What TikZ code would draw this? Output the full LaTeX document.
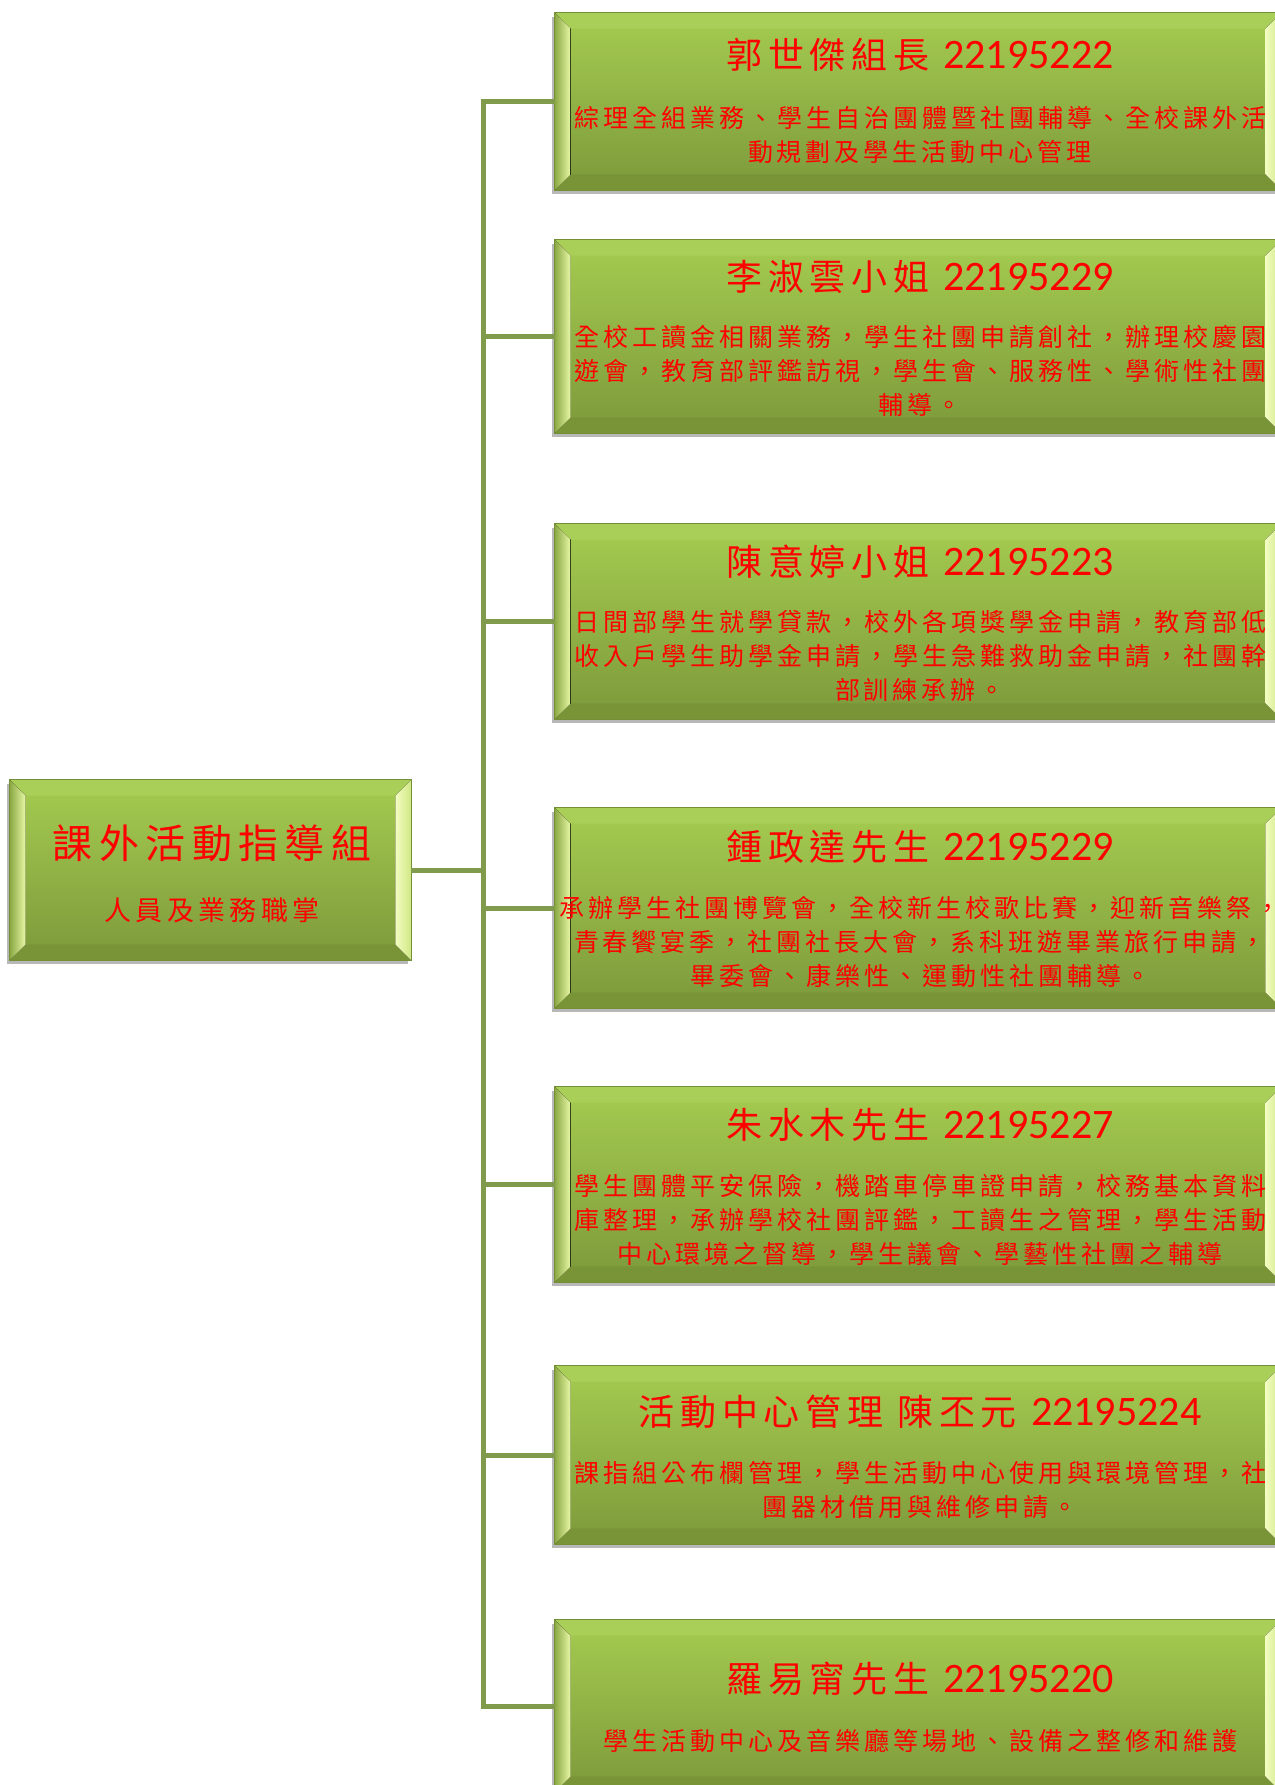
\documentclass[tikz,border=0pt]{standalone}
\usepackage{fontspec}
\usetikzlibrary{calc,backgrounds}
\setmainfont{Noto Sans CJK TC}
\newfontfamily\cjkf[LetterSpace=16]{Noto Sans CJK TC}
\newfontfamily\numf{Carlito}
\definecolor{facetop}{HTML}{A5CC50}
\definecolor{facebot}{HTML}{7D993B}
\definecolor{edgecol}{HTML}{738F38}
\definecolor{conncol}{HTML}{7F9B4B}
\definecolor{txtred}{HTML}{FF0000}
\definecolor{bevtopc}{HTML}{A9CF58}
\definecolor{bevbotc}{HTML}{789437}
\definecolor{bevlo}{HTML}{8BA843}
\definecolor{bevlm}{HTML}{A3C455}
\definecolor{bevli}{HTML}{E8F8A6}
\definecolor{bevri}{HTML}{F2FDC0}
\definecolor{bevro}{HTML}{D0E784}
\tikzset{
  panel/.style={rectangle, inner sep=0pt, top color=facetop, bottom color=facebot, draw=edgecol, line width=0.8pt},
  shadowbox/.style={fill=black!28},
  conn/.style={draw=conncol, line width=5pt, line join=miter},
  ttl/.style={text=txtred, inner sep=0pt},
  dsc/.style={text=txtred, inner sep=0pt, align=center, font=\cjkf\fontsize{25}{34}\selectfont},
}
\newcommand\bevel[1]{%
  \fill[bevtopc] (#1.north west) -- (#1.north east) -- ($(#1.north east)+(-16pt,-16pt)$) -- ($(#1.north west)+(16pt,-16pt)$) -- cycle;
  \fill[bevbotc] (#1.south west) -- (#1.south east) -- ($(#1.south east)+(-16pt,16pt)$) -- ($(#1.south west)+(16pt,16pt)$) -- cycle;
  \fill[left color=bevlo, middle color=bevlm, right color=bevli] (#1.north west) -- ($(#1.north west)+(16pt,-16pt)$) -- ($(#1.south west)+(16pt,16pt)$) -- (#1.south west) -- cycle;
  \fill[left color=bevri, right color=bevro] (#1.north east) -- ($(#1.north east)+(-16pt,-16pt)$) -- ($(#1.south east)+(-16pt,16pt)$) -- (#1.south east) -- cycle;
  \draw[edgecol, line width=0.8pt] (#1.north west) rectangle (#1.south east);
}
\newcommand\ttltext[2]{{\cjkf\fontsize{36}{40}\selectfont #1}\hspace{14pt}{\numf\fontsize{42}{45}\selectfont #2}}
\begin{document}
\begin{tikzpicture}[x=1pt,y=-1pt]
\useasboundingbox (0,0) rectangle (1274,1785);
% panels
\node[panel, minimum width=401pt, minimum height=180pt] (L) at (210.5,870) {};
\node[panel, minimum width=726pt, minimum height=177pt] (B1) at (918,101.5) {};
\node[panel, minimum width=726pt, minimum height=193pt] (B2) at (918,336.5) {};
\node[panel, minimum width=726pt, minimum height=195pt] (B3) at (918,621.5) {};
\node[panel, minimum width=726pt, minimum height=200pt] (B4) at (918,908) {};
\node[panel, minimum width=726pt, minimum height=195pt] (B5) at (918,1184.5) {};
\node[panel, minimum width=726pt, minimum height=178pt] (B6) at (918,1455) {};
\node[panel, minimum width=726pt, minimum height=172pt] (B7) at (918,1706) {};
\begin{scope}[on background layer]
  \foreach \b in {L,B1,B2,B3,B4,B5,B6,B7}{
    \fill[shadowbox] ($(\b.north west)+(-3pt,-4pt)$) rectangle ($(\b.south east)+(-3pt,-4pt)$);
  }
\end{scope}
\foreach \b in {L,B1,B2,B3,B4,B5,B6,B7}{\bevel{\b}}
% connectors
\coordinate (trunk) at (483,0);
\draw[conn] (B1.west) -- (B1.west -| trunk) -- (B7.west -| trunk) -- (B7.west);
\draw[conn] (L.east) -- (L.east -| trunk);
\foreach \b in {B2,B3,B4,B5,B6}{\draw[conn] (\b.west) -- (\b.west -| trunk);}
% left box text
\node[ttl, font=\cjkf\fontsize{40}{44}\selectfont] (Lt) at (212,843) {課外活動指導組};
\node[ttl, font=\cjkf\fontsize{27}{30}\selectfont] (Ls) at (212,910) {人員及業務職掌};
% right boxes text
\node[ttl] (T1) at (920,55) {\ttltext{郭世傑組長}{22195222}};
\node[dsc] (D1) at (920,135) {綜理全組業務、學生自治團體暨社團輔導、全校課外活\\動規劃及學生活動中心管理};
\node[ttl] (T2) at (920,277) {\ttltext{李淑雲小姐}{22195229}};
\node[dsc] (D2) at (920,371) {全校工讀金相關業務，學生社團申請創社，辦理校慶園\\遊會，教育部評鑑訪視，學生會、服務性、學術性社團\\輔導。};
\node[ttl] (T3) at (920,562) {\ttltext{陳意婷小姐}{22195223}};
\node[dsc] (D3) at (920,656) {日間部學生就學貸款，校外各項獎學金申請，教育部低\\收入戶學生助學金申請，學生急難救助金申請，社團幹\\部訓練承辦。};
\node[ttl] (T4) at (920,847) {\ttltext{鍾政達先生}{22195229}};
\node[dsc] (D4) at (920,942) {承辦學生社團博覽會，全校新生校歌比賽，迎新音樂祭，\\青春饗宴季，社團社長大會，系科班遊畢業旅行申請，\\畢委會、康樂性、運動性社團輔導。};
\node[ttl] (T5) at (920,1125) {\ttltext{朱水木先生}{22195227}};
\node[dsc] (D5) at (920,1220) {學生團體平安保險，機踏車停車證申請，校務基本資料\\庫整理，承辦學校社團評鑑，工讀生之管理，學生活動\\中心環境之督導，學生議會、學藝性社團之輔導};
\node[ttl] (T6) at (920,1412) {\ttltext{活動中心管理\hspace{14pt}陳丕元}{22195224}};
\node[dsc] (D6) at (920,1490) {課指組公布欄管理，學生活動中心使用與環境管理，社\\團器材借用與維修申請。};
\node[ttl] (T7) at (920,1679) {\ttltext{羅易甯先生}{22195220}};
\node[dsc] (D7) at (920,1741) {學生活動中心及音樂廳等場地、設備之整修和維護};
\end{tikzpicture}
\end{document}
